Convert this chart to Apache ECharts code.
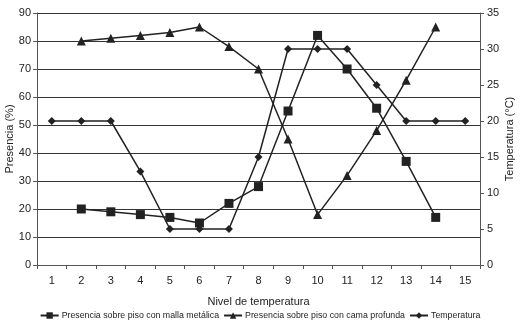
<!DOCTYPE html>
<html><head><meta charset="utf-8">
<script src="https://cdn.jsdelivr.net/npm/echarts@6/dist/echarts.min.js"></script>
<style>html,body{margin:0;padding:0;background:#fff}#c{width:520px;height:328px}</style>
</head><body><div id="c"></div>
<script>
const categories = ['1','2','3','4','5','6','7','8','9','10','11','12','13','14','15'];
const malla = [null,20,19,18,17,15,22,28,55,82,70,56,37,17,null];
const cama = [null,80,81,82,83,85,78,70,45,18,32,48,66,85,null];
const temperatura = [20,20,20,13,5,5,5,15,30,30,30,25,20,20,20];
const leftTicks = {min:0,max:90,interval:10};
const rightTicks = {min:0,max:35,interval:5};

const font = 'Liberation Sans, Arial, sans-serif';
const ink = '#222';
const chart = echarts.init(document.getElementById('c'), null, {renderer:'canvas'});
chart.setOption({
  animation:false,
  textStyle:{fontFamily:font,color:ink},
  grid:{left:37,right:40,top:13,bottom:63,containLabel:false,outerBoundsMode:'none'},
  legend:{
    bottom:3,left:'center',itemWidth:18,itemHeight:8,itemGap:4,
    textStyle:{fontSize:8.8,color:ink,fontFamily:font,padding:[0,0,0,-2]},
    data:['Presencia sobre piso con malla metálica','Presencia sobre piso con cama profunda','Temperatura']
  },
  xAxis:{
    type:'category',data:categories,boundaryGap:true,
    name:'Nivel de temperatura',nameLocation:'middle',nameGap:31,nameMoveOverlap:false,
    nameTextStyle:{fontSize:11,color:ink},
    axisLine:{lineStyle:{color:'#555'}},
    axisTick:{show:true,length:4,lineStyle:{color:'#555'}},
    axisLabel:{fontSize:11,color:ink,margin:10}
  },
  yAxis:[{
    type:'value',min:leftTicks.min,max:leftTicks.max,interval:leftTicks.interval,
    name:'Presencia (%)',nameLocation:'middle',nameGap:22,nameRotate:90,nameMoveOverlap:false,
    nameTextStyle:{fontSize:11,color:ink},
    axisLine:{show:true,lineStyle:{color:'#555'}},
    axisTick:{show:true,length:4,lineStyle:{color:'#555'}},
    axisLabel:{fontSize:11,color:ink,margin:6},
    splitLine:{show:true,lineStyle:{color:'#333',width:1}}
  },{
    type:'value',min:rightTicks.min,max:rightTicks.max,interval:rightTicks.interval,position:'right',
    name:'Temperatura (°C)',nameLocation:'middle',nameGap:24,nameRotate:90,nameMoveOverlap:false,
    nameTextStyle:{fontSize:11,color:ink},
    axisLine:{show:true,lineStyle:{color:'#555'}},
    axisTick:{show:true,length:4,lineStyle:{color:'#555'}},
    axisLabel:{fontSize:11,color:ink,margin:7},
    splitLine:{show:false}
  }],
  series:[{
    name:'Presencia sobre piso con malla metálica',type:'line',data:malla,
    symbol:'rect',symbolSize:9,connectNulls:false,
    itemStyle:{color:ink},lineStyle:{color:ink,width:1.5}
  },{
    name:'Presencia sobre piso con cama profunda',type:'line',data:cama,
    symbol:'triangle',symbolSize:9,
    itemStyle:{color:ink},lineStyle:{color:ink,width:1.5}
  },{
    name:'Temperatura',type:'line',yAxisIndex:1,data:temperatura,
    symbol:'diamond',symbolSize:8,
    itemStyle:{color:ink},lineStyle:{color:ink,width:1.5}
  }]
});
</script></body></html>
